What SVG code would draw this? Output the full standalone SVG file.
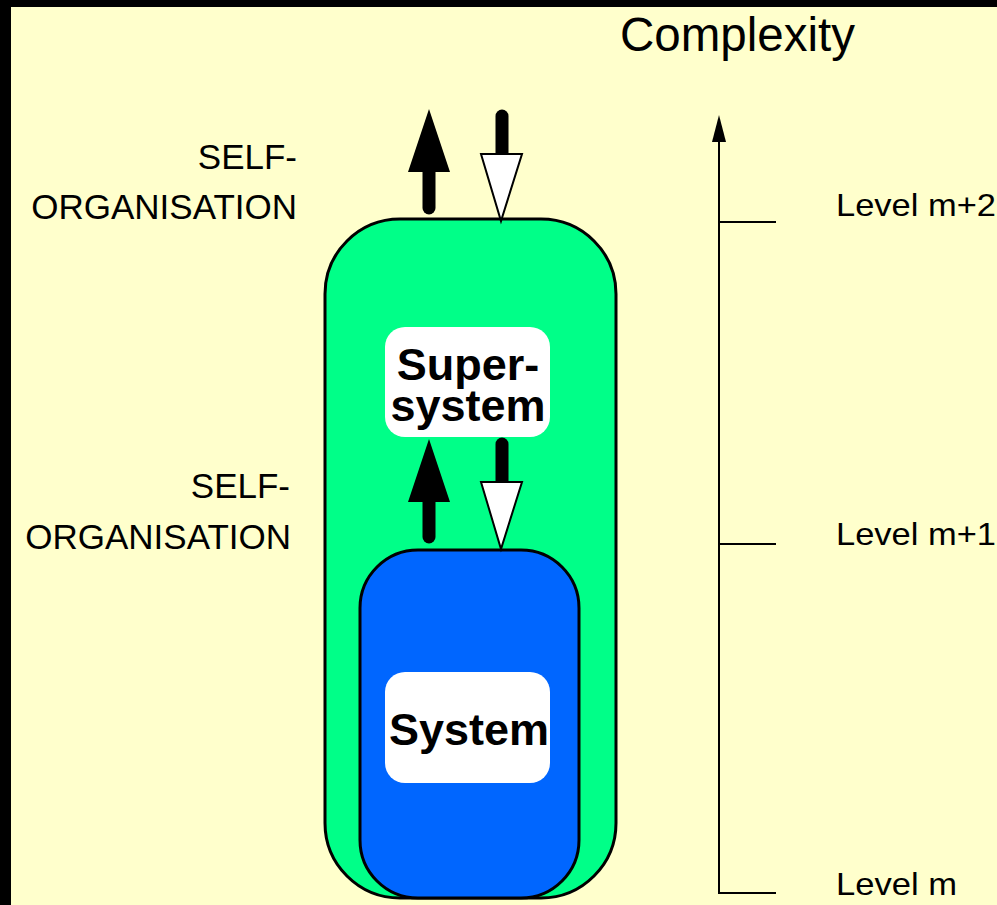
<svg xmlns="http://www.w3.org/2000/svg" width="997" height="905" viewBox="0 0 997 905">
<defs>
<style>
.t{font-family:"Liberation Sans",Arial,sans-serif;fill:#000}
.lab{font-size:35px;text-anchor:end}
.lvl{font-size:32px}
.box{font-size:45px;font-weight:bold;text-anchor:middle}
.shaft{stroke:#000;stroke-width:13;stroke-linecap:round;fill:none}
.headB{fill:#000}
.headW{fill:#fff;stroke:#000;stroke-width:2;stroke-linejoin:miter}
.axis{stroke:#000;stroke-width:2;fill:none}
</style>
</defs>
<rect x="0" y="0" width="997" height="905" fill="#ffffcc"/>
<rect x="0" y="0" width="997" height="7" fill="#000"/>
<rect x="0" y="0" width="11" height="905" fill="#000"/>

<text class="t" x="620" y="51" font-size="47.5">Complexity</text>

<g id="label-self-org-top">
<text class="t lab" x="297" y="169">SELF-</text>
<text class="t lab" x="297" y="219">ORGANISATION</text>
</g>
<g id="label-self-org-mid">
<text class="t lab" x="290" y="498">SELF-</text>
<text class="t lab" x="291" y="549">ORGANISATION</text>
</g>

<g id="supersystem-env">
<rect x="325" y="219" width="291" height="679" rx="75" ry="75" fill="#00ff88" stroke="#000" stroke-width="3"/>
</g>
<g id="supersystem">
<rect x="385" y="327" width="165" height="110" rx="20" ry="20" fill="#fff"/>
<text class="t box" x="468" y="380">Super-</text>
<text class="t box" x="468" y="421">system</text>
</g>
<g id="system-env">
<rect x="360" y="550" width="219" height="348" rx="58" ry="58" fill="#0066ff" stroke="#000" stroke-width="3"/>
</g>
<g id="system">
<rect x="385" y="672" width="165" height="111" rx="20" ry="20" fill="#fff"/>
<text class="t box" x="469" y="745" font-size="47">System</text>
</g>

<g id="connectors">
<line class="shaft" x1="429" y1="170" x2="429" y2="208"/>
<polygon class="headB" points="429,109 408,172 450,172"/>
<line class="shaft" x1="502" y1="116" x2="502" y2="156"/>
<polygon class="headW" points="481,154 522,154 501,221"/>

<line class="shaft" x1="429" y1="500" x2="429" y2="537"/>
<polygon class="headB" points="429,439 408,502 450,502"/>
<line class="shaft" x1="502" y1="444" x2="502" y2="484"/>
<polygon class="headW" points="481,482 522,482 501,549"/>

<line class="axis" x1="719" y1="138" x2="719" y2="894"/>
<polygon points="719,115 712,142 726,142" fill="#000"/>
<line class="axis" x1="719" y1="222" x2="776" y2="222"/>
<line class="axis" x1="719" y1="544" x2="776" y2="544"/>
<line class="axis" x1="719" y1="893" x2="776" y2="893"/>
</g>

<g id="level-labels">
<text class="t lvl" x="836" y="216" textLength="160" lengthAdjust="spacingAndGlyphs">Level m+2</text>
<text class="t lvl" x="836" y="545" textLength="160" lengthAdjust="spacingAndGlyphs">Level m+1</text>
<text class="t lvl" x="836" y="895" textLength="121" lengthAdjust="spacingAndGlyphs">Level m</text>
</g>
</svg>
